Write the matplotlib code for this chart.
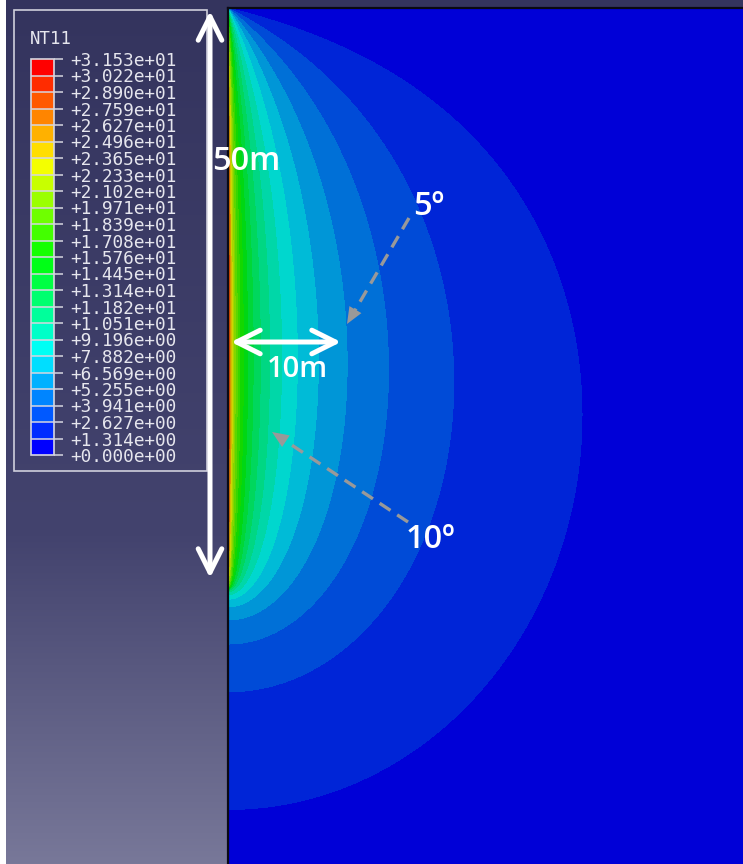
import numpy as np
import matplotlib
matplotlib.use("Agg")
import matplotlib.pyplot as plt
from matplotlib.colors import ListedColormap, BoundaryNorm, hsv_to_rgb
from matplotlib.cm import ScalarMappable
from matplotlib.patches import Rectangle, FancyArrowPatch

# ---------------- values ----------------
legend_title = "NT11"
level_values = [0.000, 1.314, 2.627, 3.941, 5.255, 6.569, 7.882, 9.196,
                10.51, 11.82, 13.14, 14.45, 15.76, 17.08, 18.39, 19.71,
                21.02, 22.33, 23.65, 24.96, 26.27, 27.59, 28.90, 30.22, 31.53]
level_labels = ["+0.000e+00", "+1.314e+00", "+2.627e+00", "+3.941e+00",
                "+5.255e+00", "+6.569e+00", "+7.882e+00", "+9.196e+00",
                "+1.051e+01", "+1.182e+01", "+1.314e+01", "+1.445e+01",
                "+1.576e+01", "+1.708e+01", "+1.839e+01", "+1.971e+01",
                "+2.102e+01", "+2.233e+01", "+2.365e+01", "+2.496e+01",
                "+2.627e+01", "+2.759e+01", "+2.890e+01", "+3.022e+01",
                "+3.153e+01"]
source_length_m = 50.0      # heated line along the left edge
offset_m = 10.0             # horizontal dimension arrow
model_width_m = 44.4
model_depth_m = 73.8
dim_labels = ["50m", "10m"]
angle_labels = ["5º", "10º"]
# isotherm reading used to scale the field: 7.882 lies 5.9 m from the line at 33.8 m depth
calib_offset_m = 5.9
calib_depth_m = 33.8
calib_value = 7.882
decay_length_m = 45.0
source_radius_m = 0.1

# ---------------- figure ----------------
W, H, DPI = 743, 864, 100
fig = plt.figure(figsize=(W / DPI, H / DPI), dpi=DPI)


def px(x0, y0, w, h):
    return [x0 / W, 1 - (y0 + h) / H, w / W, h / H]


# background gradient
bg = fig.add_axes([0, 0, 1, 1], zorder=0)
t = np.linspace(0, 1, H)
stops = [0.0, 0.62, 1.0]
cols = [(52, 52, 94), (67, 67, 110), (120, 120, 153)]
grad = np.stack([np.interp(t, stops, [c[k] for c in cols]) for k in range(3)], -1) / 255
img = np.repeat(grad[:, None, :], W, axis=1)
img[:, :6] = 1.0
bg.imshow(img, extent=[0, W, H, 0], aspect="auto", interpolation="nearest")
bg.set_xlim(0, W)
bg.set_ylim(H, 0)
bg.axis("off")

# ---------------- temperature field ----------------
L = source_length_m
lam = decay_length_m
a = source_radius_m


def field(r, z, n=160):
    re = np.sqrt(r ** 2 + a ** 2)
    base = np.arcsinh((L - z) / re) + 2 * np.arcsinh(z / re) - np.arcsinh((L + z) / re)
    corr = np.zeros(np.broadcast(re, z).shape)
    ds = L / n
    for s in (np.arange(n) + 0.5) * ds:
        d1 = np.sqrt(re ** 2 + (z - s) ** 2)
        d2 = np.sqrt(re ** 2 + (z + s) ** 2)
        corr += np.expm1(-d1 / lam) / d1 - np.expm1(-d2 / lam) / d2
    return base + corr * ds


r = np.concatenate([np.linspace(0, 0.6, 80, endpoint=False),
                    np.linspace(0.6, model_width_m, 520)])
z = np.linspace(0, model_depth_m, 900)
R, Z = np.meshgrid(r, z)
U = field(R, Z)
scale = calib_value / field(np.array(calib_offset_m), np.array(calib_depth_m))
T = np.clip(U * scale, level_values[0], level_values[-1] - 1e-6)

n_bands = len(level_values) - 1
hues = (240.0 - np.arange(n_bands) * 240.0 / (n_bands - 1)) / 360.0
legend_colors = hsv_to_rgb(np.stack([hues, np.ones(n_bands), np.ones(n_bands)], -1))
plot_colors = hsv_to_rgb(np.stack([hues, np.ones(n_bands), np.full(n_bands, 0.843)], -1))

ax = fig.add_axes(px(228, 8, 515, 856), zorder=1)
ax.contourf(R, Z, T, levels=level_values, colors=plot_colors, antialiased=False)
ax.set_xlim(0, model_width_m)
ax.set_ylim(model_depth_m, 0)
ax.set_xticks([])
ax.set_yticks([])
for s in ["right", "bottom"]:
    ax.spines[s].set_visible(False)
for s in ["left", "top"]:
    ax.spines[s].set_linewidth(1.6)
    ax.spines[s].set_color("#0a0a14")

# ---------------- legend ----------------
cax = fig.add_axes(px(31, 59, 23, 396), zorder=3)
sm = ScalarMappable(norm=BoundaryNorm(level_values, n_bands),
                    cmap=ListedColormap(legend_colors))
cb = fig.colorbar(sm, cax=cax, ticks=level_values, drawedges=True)
cb.ax.set_yticklabels(level_labels, family="DejaVu Sans Mono", fontsize=12.8,
                      color="#e6e6ee")
cb.ax.tick_params(length=6.5, width=1.1, color="#d6d6e0", pad=5)
cb.outline.set_edgecolor("#d6d6e0")
cb.outline.set_linewidth(1.2)
cb.dividers.set_color("#d6d6e0")
cb.dividers.set_linewidth(1.1)

ov = fig.add_axes([0, 0, 1, 1], zorder=5)
ov.set_xlim(0, W)
ov.set_ylim(H, 0)
ov.axis("off")
ov.add_patch(Rectangle((14, 10), 193, 461, fill=False, ec="#cfcfdc", lw=1.2))
ov.text(30, 39, legend_title, family="DejaVu Sans Mono", fontsize=12.5,
        color="#e6e6ee", va="center", ha="left")

# ---------------- annotations ----------------
white_arrow = dict(arrowstyle="<->,head_length=1.7,head_width=0.85",
                   mutation_scale=10, lw=3.6, color="white",
                   shrinkA=0, shrinkB=0, capstyle="round", joinstyle="round")
ov.add_patch(FancyArrowPatch((210, 11), (210, 578), **white_arrow))
ov.add_patch(FancyArrowPatch((231, 342), (341, 342), **white_arrow))

lab_font = dict(family="Open Sans", fontweight="semibold", color="white",
                ha="center", va="baseline")
ov.text(246, 170, dim_labels[0], fontsize=23.5, **lab_font)
ov.text(297, 377, dim_labels[1], fontsize=21, **lab_font)
ov.text(429, 215, angle_labels[0], fontsize=23.5, **lab_font)
ov.text(430, 548, angle_labels[1], fontsize=23.5, **lab_font)

gray = "#999999"


def dashed_arrow(p0, p1):
    p0, p1 = np.array(p0, float), np.array(p1, float)
    d = p1 - p0
    u = d / np.hypot(*d)
    pb = p1 - u * 15
    ov.plot([p0[0], pb[0]], [p0[1], pb[1]], color=gray, lw=2.4,
            dashes=(3.9, 2.4), solid_capstyle="butt")
    ov.add_patch(FancyArrowPatch(tuple(pb - u * 2), tuple(p1),
                                 arrowstyle="-|>,head_length=1.2,head_width=0.5",
                                 mutation_scale=10, color=gray, lw=0,
                                 shrinkA=0, shrinkB=0))


dashed_arrow((409, 218), (347, 324))
dashed_arrow((408, 522), (272, 432))

fig.savefig("out.png", dpi=DPI)
